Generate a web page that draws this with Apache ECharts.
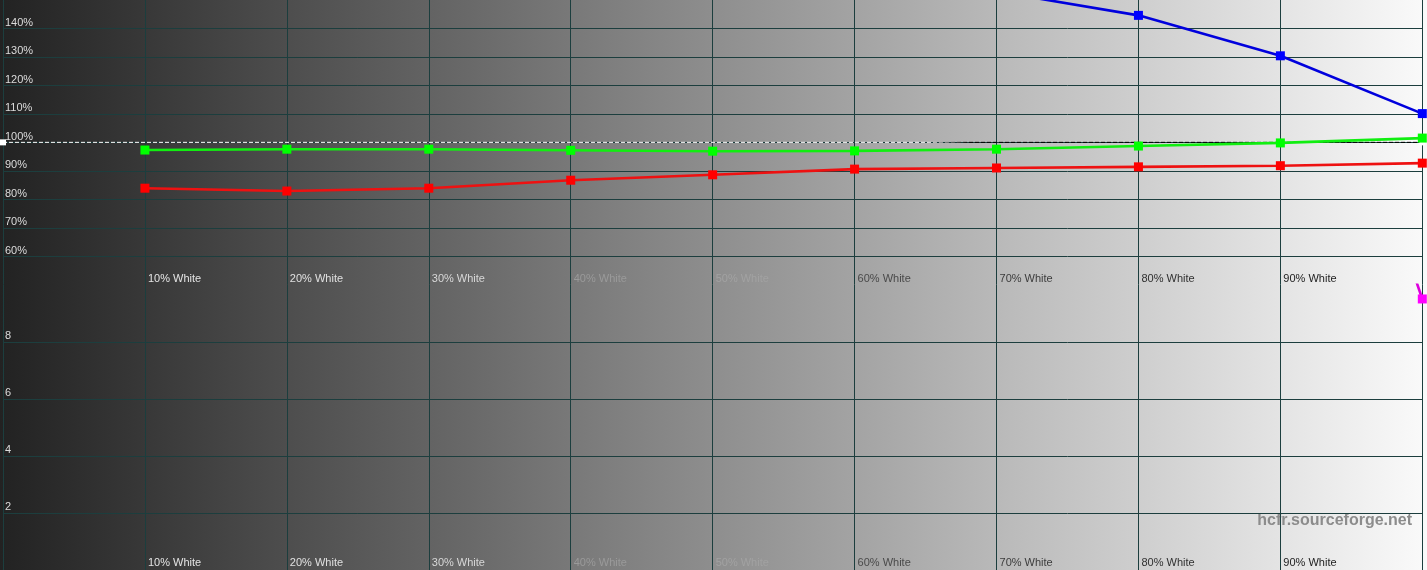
<!DOCTYPE html>
<html><head><meta charset="utf-8">
<script src="https://cdn.jsdelivr.net/npm/echarts@6/dist/echarts.min.js"></script>
<style>html,body{margin:0;padding:0;background:#eef2f5;overflow:hidden}#c{width:1427px;height:570px}</style>
</head><body><div id="c"></div>
<script>
// ---- data ----
const levels = [10, 20, 30, 40, 50, 60, 70, 80, 90, 100];
const levelLabels = ['10% White','20% White','30% White','40% White','50% White','60% White','70% White','80% White','90% White'];
const redPct   = [83.9, 82.9, 83.9, 86.7, 88.6, 90.6, 91.0, 91.4, 91.8, 92.7];
const greenPct = [97.3, 97.6, 97.6, 97.2, 96.9, 97.0, 97.6, 98.7, 99.8, 101.5];
const bluePct  = [null, null, null, null, null, null, 153.0, 144.6, 130.4, 110.1];
const deltaE   = [null, null, null, null, null, null, null, null, 24, 9.5];
const referenceX = [0, 100];
const referencePct = [100, 100];

// ---- styling helpers ----
const labelColors = ['#e4e4e4','#e0e0e0','#d8d8d8','#9a9a9a','#a2a2a2','#4a4a4a','#3c3c3c','#303030','#222222'];
const gridColor = '#1c3e3e';
const font = 'Liberation Sans, Arial, sans-serif';
const pairs = (ys) => levels.map((x, i) => [x, ys[i]]);

const xAxisBase = (gi, margin) => ({
  type: 'value', gridIndex: gi, min: 0, max: 100, interval: 10,
  axisLine: {show: false}, axisTick: {show: false},
  splitLine: {show: true, lineStyle: {color: gridColor, width: 1}},
  axisLabel: {
    inside: true, margin: margin, align: 'left', padding: [0,0,0,3],
    fontFamily: font, fontSize: 11,
    formatter: v => (v > 0 && v < 100) ? levelLabels[Math.round(v / 10) - 1] : '',
    color: (v) => { const i = Math.round(Number(v) / 10) - 1; return labelColors[Math.max(0, Math.min(8, i))]; }
  }
});
const yAxisBase = (gi, min, max, interval, fmt) => ({
  type: 'value', gridIndex: gi, min, max, interval,
  axisLine: {show: false}, axisTick: {show: false},
  splitLine: {show: true, showMinLine: false, showMaxLine: false, lineStyle: {color: gridColor, width: 1}},
  axisLabel: {
    inside: true, margin: 2, align: 'left', verticalAlign: 'bottom',
    showMinLabel: false, showMaxLabel: false,
    fontFamily: font, fontSize: 11, color: '#dcdcdc', formatter: fmt
  }
});

const chart = echarts.init(document.getElementById('c'), null, {renderer: 'canvas'});
chart.setOption({
  animation: false,
  backgroundColor: new echarts.graphic.LinearGradient(0, 0, 1, 0, [
    {offset: 0, color: '#222222'}, {offset: 1, color: '#fafafa'}
  ]),
  grid: [
    {left: 2.3, right: 4.7, top: 0, height: 284.7},
    {left: 2.3, right: 4.7, top: 284.7, height: 285.3}
  ],
  xAxis: [xAxisBase(0, 0), xAxisBase(1, 1.5)],
  yAxis: [
    yAxisBase(0, 50, 150, 10, v => v + '%'),
    yAxisBase(1, 0, 10, 2, v => String(v))
  ],
  graphic: [{
    type: 'text', right: 15, top: 513,
    style: {text: 'hcfr.sourceforge.net', font: 'bold 16px ' + font, fill: '#8c8c8c'}
  }],
  series: [
    {type: 'line', xAxisIndex: 0, yAxisIndex: 0, data: referenceX.map((x, i) => [x, referencePct[i]]),
     symbol: 'rect', symbolSize: 6, itemStyle: {color: '#ffffff'},
     lineStyle: {width: 1, type: [4, 2],
       color: new echarts.graphic.LinearGradient(0, 0, 1, 0, [
         {offset: 0, color: '#ffffff'}, {offset: 0.65, color: '#ffffff'},
         {offset: 0.68, color: '#000000'}, {offset: 1, color: '#000000'}])}, z: 2},
    {type: 'line', xAxisIndex: 0, yAxisIndex: 0, data: pairs(redPct),
     symbol: 'rect', symbolSize: 9, itemStyle: {color: '#ff0000'},
     lineStyle: {color: '#ee1111', width: 2.6}, z: 4},
    {type: 'line', xAxisIndex: 0, yAxisIndex: 0, data: pairs(greenPct),
     symbol: 'rect', symbolSize: 9, itemStyle: {color: '#00ff00'},
     lineStyle: {color: '#11ee11', width: 2.6}, z: 4},
    {type: 'line', xAxisIndex: 0, yAxisIndex: 0, data: pairs(bluePct),
     symbol: 'rect', symbolSize: 9, itemStyle: {color: '#0000ff'},
     lineStyle: {color: '#0000dd', width: 2.6}, z: 4, clip: true},
    {type: 'line', xAxisIndex: 1, yAxisIndex: 1, data: pairs(deltaE),
     symbol: 'rect', symbolSize: 9, itemStyle: {color: '#ff00ff'},
     lineStyle: {color: '#dd00dd', width: 2.6}, z: 4, clip: true}
  ]
});
</script></body></html>
